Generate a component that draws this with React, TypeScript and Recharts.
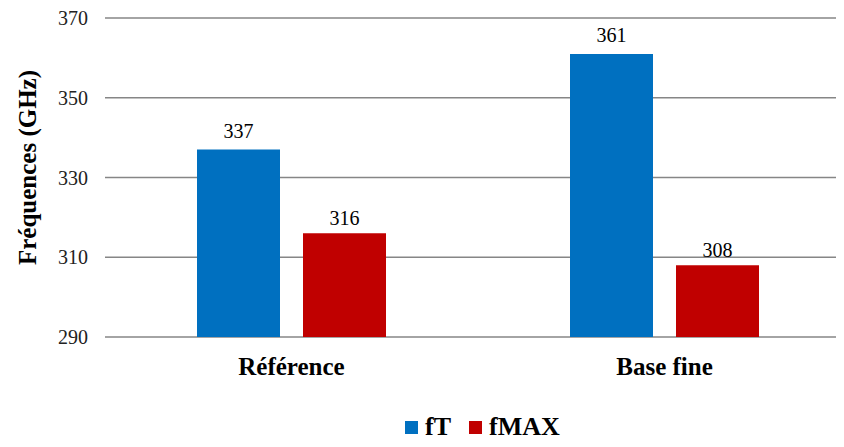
import React from "react";
import { BarChart, Bar, XAxis, YAxis, CartesianGrid, LabelList } from "recharts";

const categories = ["Référence", "Base fine"];
const fT = [337, 361];
const fMAX = [316, 308];
const yTicks = [290, 310, 330, 350, 370];

const SERIF = "'Liberation Serif', 'Times New Roman', serif";
const BLUE = "#0070C0";
const RED = "#C00000";

const rows = categories.map((name, i) => ({ name, fT: fT[i], fMAX: fMAX[i] }));

const legendItems = [
    { name: "fT", color: BLUE },
    { name: "fMAX", color: RED },
];

function CategoryTick({ x, y, payload }: any) {
    return (
        <text x={x} y={y + 38} textAnchor="middle" fontFamily={SERIF} fontSize={25} fontWeight="bold" fill="#000">
            {payload.value}
        </text>
    );
}

function AxisTitle({ viewBox }: any) {
    const cy = viewBox.y + viewBox.height / 2 - 10;
    return (
        <text
            x={36}
            y={cy}
            transform={`rotate(-90, 36, ${cy})`}
            textAnchor="middle"
            fontFamily={SERIF}
            fontSize={25}
            fontWeight="bold"
            fill="#000"
        >
            Fréquences (GHz)
        </text>
    );
}

export default function App() {
    return (
        <div style={{ position: "relative", width: 844, height: 447, overflow: "hidden", margin: "-8px 0 0 -8px", background: "#fff" }}>
            <BarChart
                width={860}
                height={447}
                data={rows}
                margin={{ top: 18, right: 9, bottom: 80, left: 0 }}
                barSize={83}
                barGap={23}
            >
                <CartesianGrid horizontal vertical={false} stroke="#868686" strokeWidth={1.3} />
                <XAxis
                    dataKey="name"
                    height={30}
                    axisLine={false}
                    tickLine={false}
                    tickSize={0}
                    tickMargin={0}
                    tick={<CategoryTick />}
                    interval={0}
                />
                <YAxis
                    width={105}
                    domain={[290, 370]}
                    ticks={yTicks}
                    axisLine={false}
                    tickLine={false}
                    tickSize={0}
                    tickMargin={17}
                    tick={{ fontFamily: SERIF, fontSize: 20, fill: "#222" }}
                    label={{ content: <AxisTitle /> }}
                />
                <Bar dataKey="fT" fill={BLUE} isAnimationActive={false}>
                    <LabelList dataKey="fT" position="top" offset={12} fontFamily={SERIF} fontSize={20} fill="#000" />
                </Bar>
                <Bar dataKey="fMAX" fill={RED} isAnimationActive={false}>
                    <LabelList dataKey="fMAX" position="top" offset={8} fontFamily={SERIF} fontSize={20} fill="#000" />
                </Bar>
            </BarChart>
            <div
                style={{
                    position: "absolute",
                    left: 405,
                    top: 412,
                    display: "flex",
                    alignItems: "center",
                    fontFamily: SERIF,
                    fontSize: 26,
                    fontWeight: "bold",
                    color: "#000",
                }}
            >
                {legendItems.map((it) => (
                    <span key={it.name} style={{ display: "inline-flex", alignItems: "center", marginRight: 18 }}>
                        <span style={{ width: 13, height: 13, background: it.color, marginRight: 7, display: "inline-block" }} />
                        {it.name}
                    </span>
                ))}
            </div>
        </div>
    );
}
